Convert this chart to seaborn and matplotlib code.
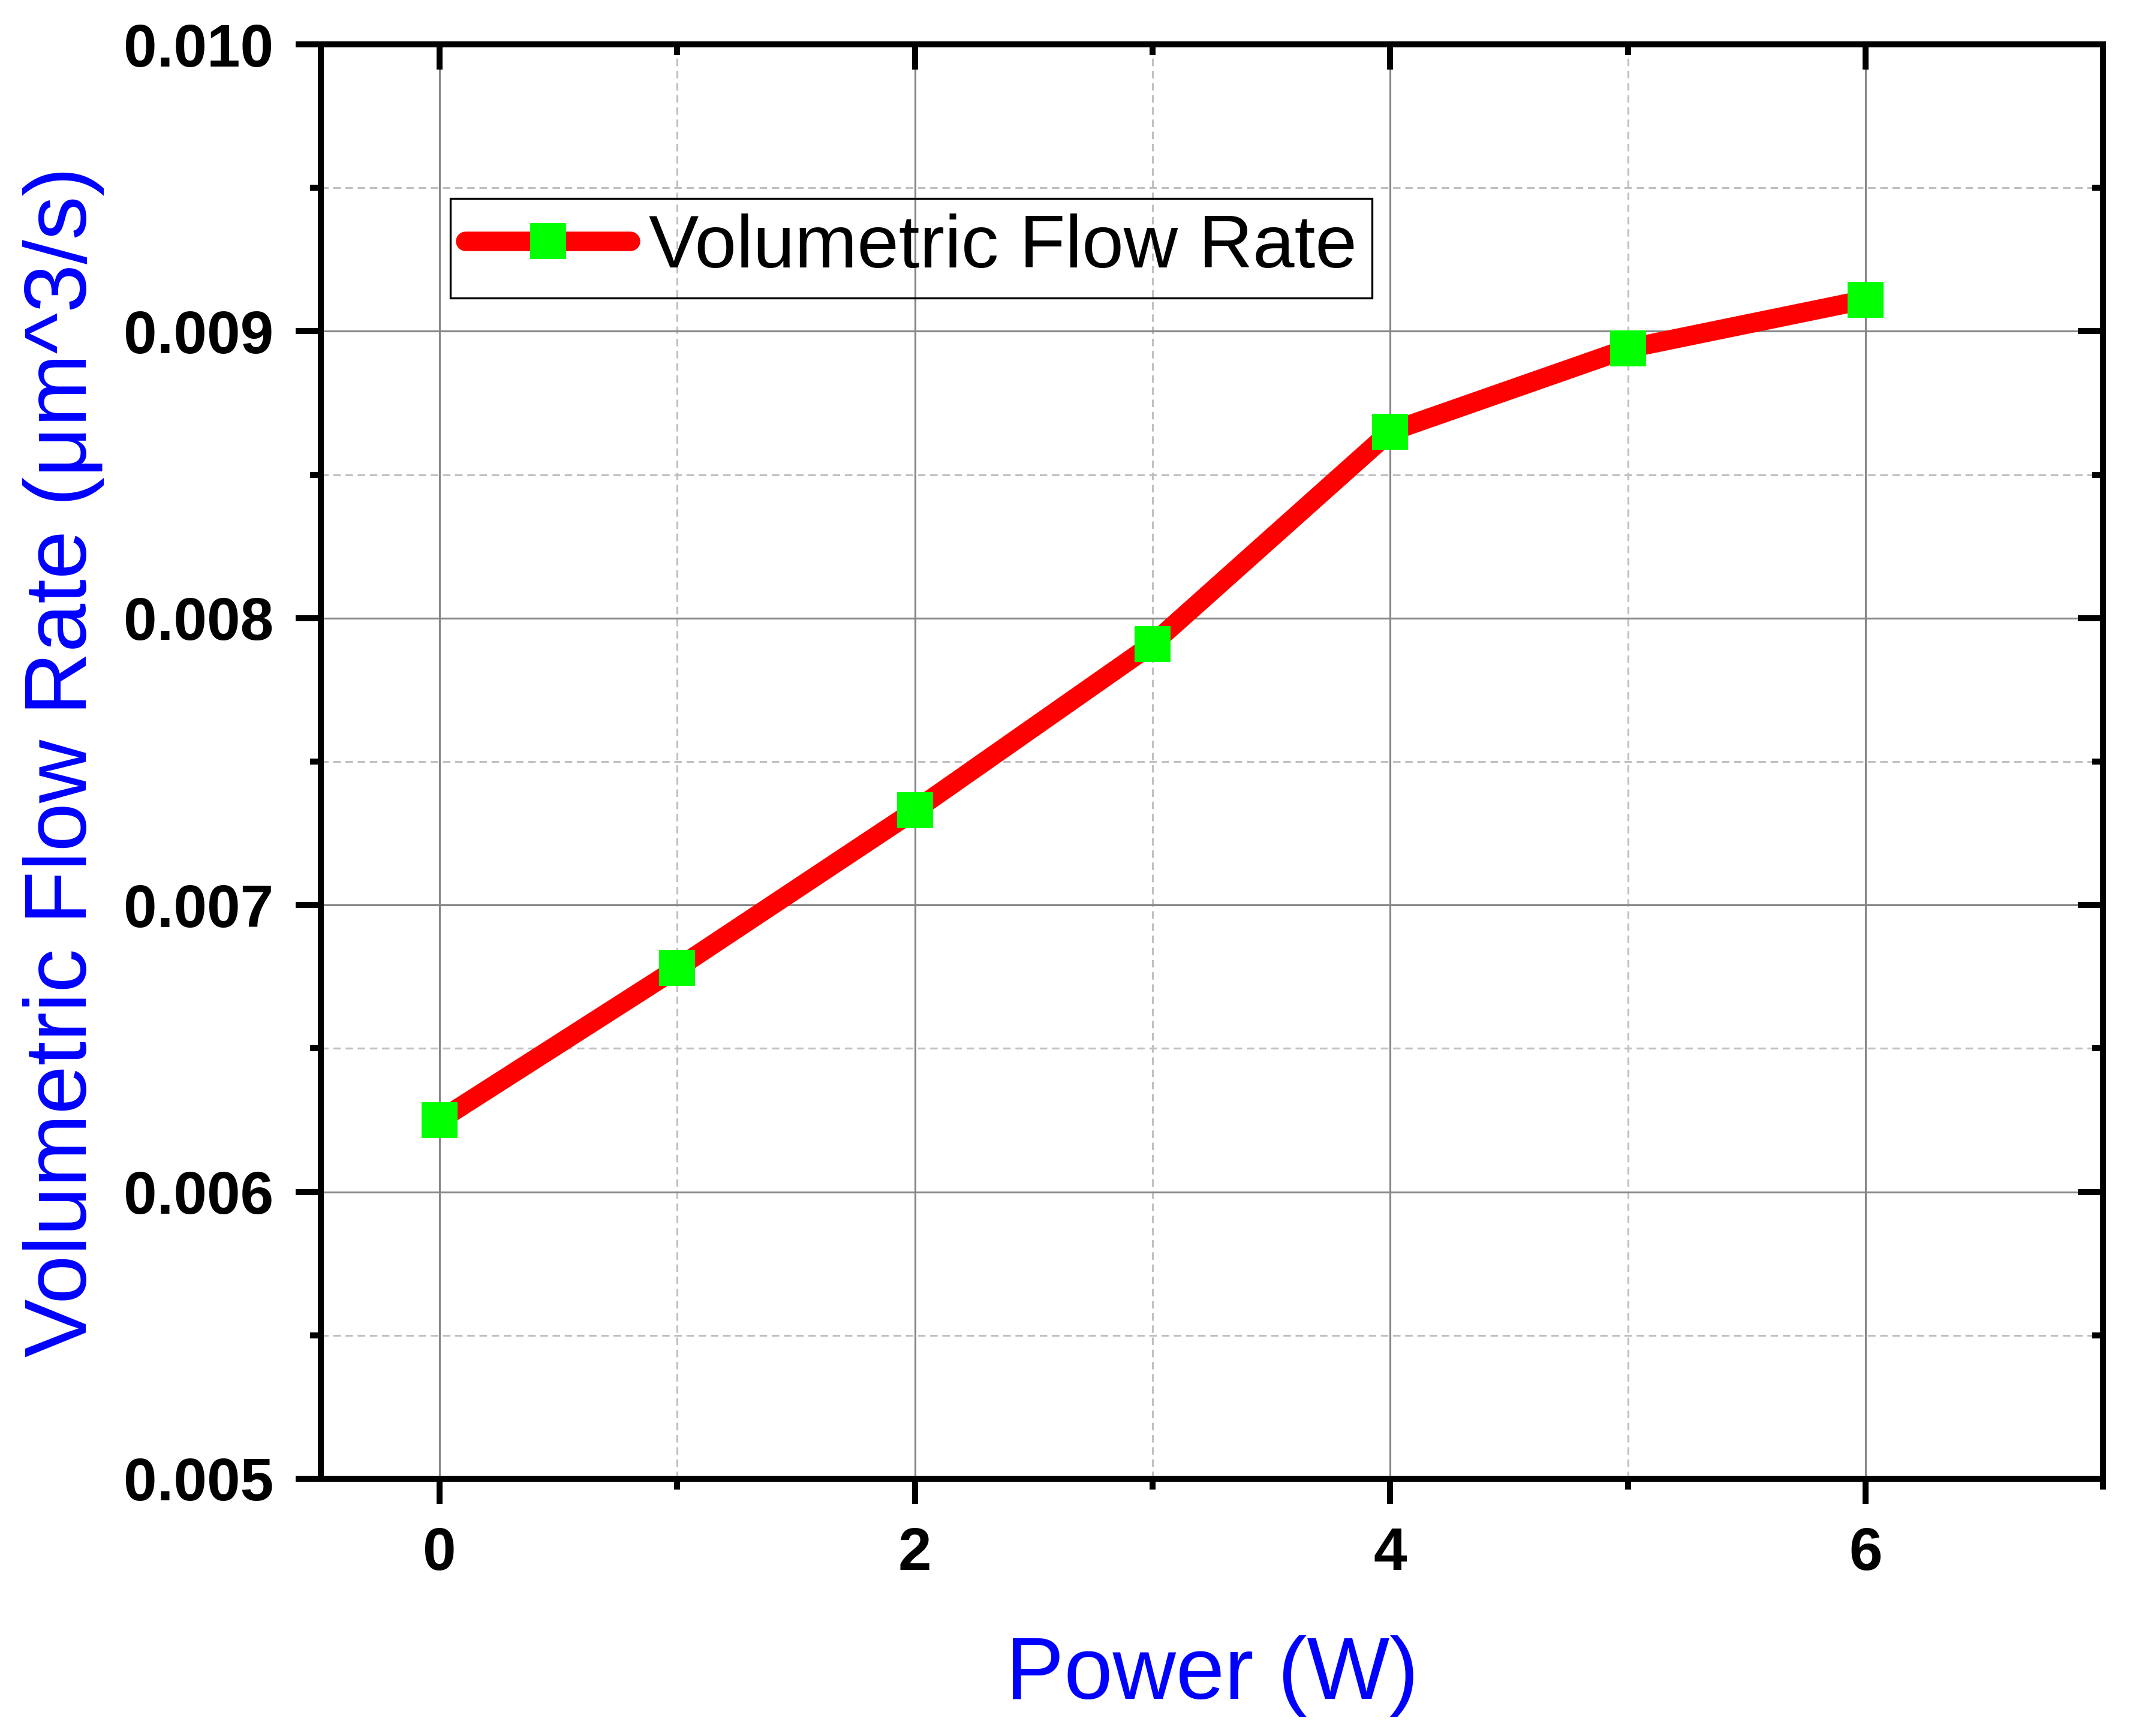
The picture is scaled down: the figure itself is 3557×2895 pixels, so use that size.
import numpy as np
import pandas as pd
import seaborn as sns
import matplotlib

matplotlib.use("Agg")
import matplotlib.pyplot as plt
from matplotlib import ticker

# Data
power_w = [0, 1, 2, 3, 4, 5, 6]
flow_rate = [0.00625, 0.00678, 0.00733, 0.00791, 0.00865, 0.00894, 0.00911]
SERIES_LABEL = "Volumetric Flow Rate"
X_LABEL = "Power (W)"
Y_LABEL = "Volumetric Flow Rate (μm^3/s)"

# Styles
LINE_RED = "#FF0000"
MARKER_GREEN = "#00FF00"
LABEL_BLUE = "#0000FF"
MAJOR_GRID = "#888888"
MINOR_GRID = "#C0C0C0"
SPINE_W = 2.4
MAJOR_LEN, MINOR_LEN = 10, 4.4

sns.set_style("white")
plt.rcParams["font.family"] = ["Liberation Sans", "DejaVu Sans"]
plt.rcParams.update({
    "text.color": "black",
    "axes.labelcolor": "black",
    "xtick.color": "black",
    "ytick.color": "black",
})

df = pd.DataFrame({"power": power_w, "flow": flow_rate})

AX_POS = [0.1504, 0.1482, 0.986 - 0.1504, 0.9744 - 0.1482]
fig = plt.figure(figsize=(3557 / 300, 2895 / 300), dpi=300)
ax = fig.add_axes(AX_POS)

sns.lineplot(
    data=df,
    x="power",
    y="flow",
    ax=ax,
    color=LINE_RED,
    linewidth=7.8,
    marker="s",
    markersize=14.4,
    markerfacecolor=MARKER_GREEN,
    markeredgecolor=MARKER_GREEN,
    markeredgewidth=0,
    solid_capstyle="round",
    solid_joinstyle="round",
    label=SERIES_LABEL,
    zorder=3,
)

ax.set_xlim(-0.5, 7)
ax.set_ylim(0.005, 0.010)


def set_locators(a):
    a.xaxis.set_major_locator(ticker.MultipleLocator(2))
    a.xaxis.set_minor_locator(ticker.MultipleLocator(1))
    a.yaxis.set_major_locator(ticker.MultipleLocator(0.001))
    a.yaxis.set_minor_locator(ticker.MultipleLocator(0.0005))


set_locators(ax)
ax.yaxis.set_major_formatter(ticker.FormatStrFormatter("%.3f"))

# Grid: solid major, dashed minor
ax.set_axisbelow(True)
ax.grid(which="major", color=MAJOR_GRID, linewidth=0.75, linestyle="-")
ax.grid(which="minor", color=MINOR_GRID, linewidth=0.75, linestyle=(0, (4, 2.5)))

for sp in ax.spines.values():
    sp.set_linewidth(SPINE_W)
    sp.set_color("black")
    sp.set_visible(True)

# Outward ticks on left/bottom
ax.tick_params(which="major", direction="out", length=MAJOR_LEN, width=SPINE_W,
               labelsize=24, pad=9, colors="black")
ax.tick_params(which="minor", direction="out", length=MINOR_LEN, width=SPINE_W)
ax.tick_params(which="both", top=False, right=False, bottom=True, left=True)
for lab in ax.get_xticklabels() + ax.get_yticklabels():
    lab.set_fontweight("bold")

# Overlay axes for inward ticks on top/right, no labels
ov = fig.add_axes(AX_POS, frameon=False, sharex=ax, sharey=ax)
ov.patch.set_visible(False)
ov.tick_params(which="both", direction="in", width=SPINE_W,
               top=True, right=True, bottom=False, left=False,
               labeltop=False, labelright=False, labelbottom=False, labelleft=False)
ov.tick_params(which="major", length=MAJOR_LEN)
ov.tick_params(which="minor", length=MINOR_LEN)
ov.grid(False)

ax.set_xlabel(X_LABEL, fontsize=35, color=LABEL_BLUE, labelpad=21)
ax.set_ylabel(Y_LABEL, fontsize=35, color=LABEL_BLUE, labelpad=7.5)

leg = ax.legend(
    loc="upper left",
    bbox_to_anchor=(0.0727, 0.8925),
    borderaxespad=0,
    fontsize=30,
    frameon=True,
    fancybox=False,
    facecolor="none",
    edgecolor="black",
    framealpha=1,
    handlelength=2.2,
    handletextpad=0.25,
    borderpad=0.2,
)
leg.get_frame().set_linewidth(0.8)
for t in leg.get_texts():
    t.set_color("black")

fig.savefig("out.png", dpi=300)
